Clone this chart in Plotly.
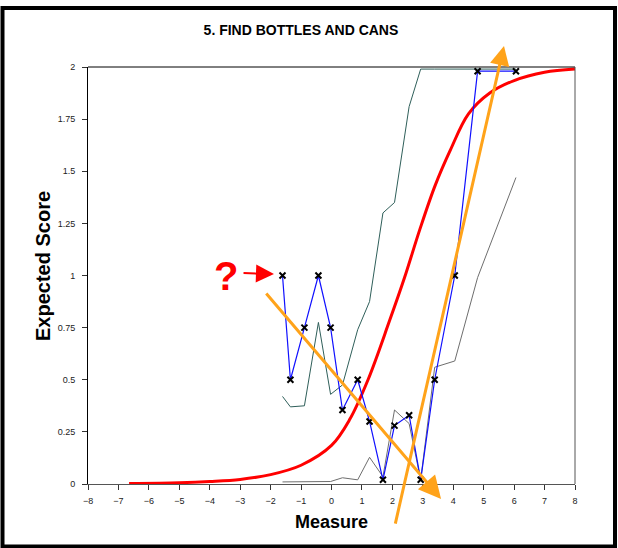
import plotly.graph_objects as go

# Observed item scores by measure
measure = [-1.61, -1.35, -0.89, -0.43, -0.03, 0.36, 0.86, 1.25, 1.69, 2.07, 2.55, 2.93, 3.39, 4.05, 4.80, 6.06]
observed = [1.0, 0.5, 0.75, 1.0, 0.75, 0.355, 0.5, 0.3, 0.02, 0.28, 0.33, 0.02, 0.5, 1.0, 1.98, 1.98]

# Upper and lower confidence bands
upper = [0.42, 0.37, 0.375, 0.775, 0.43, 0.475, 0.74, 0.875, 1.30, 1.35, 1.81, 1.99, 1.99, 1.99, 1.99, 1.99]
lower = [0.01, 0.01, 0.01, 0.01, 0.012, 0.03, 0.02, 0.128, 0.035, 0.355, 0.29, 0.02, 0.56, 0.59, 0.99, 1.47]

# Model expected-score curve
model_x = [-6.65, -5.0, -4.0, -3.0, -2.0, -1.0, 0.0, 0.6, 1.2, 1.9, 2.4, 2.9, 3.4, 3.9, 4.5, 5.2, 6.0, 7.0, 8.0]
model_y = [0.002, 0.006, 0.012, 0.022, 0.045, 0.09, 0.185, 0.31, 0.5, 0.78, 0.99, 1.22, 1.43, 1.6, 1.775, 1.875, 1.935, 1.975, 1.99]

x_ticks = list(range(-8, 9))
y_ticks = [0, 0.25, 0.5, 0.75, 1, 1.25, 1.5, 1.75, 2]
y_tick_text = ["0", "0.25", "0.5", "0.75", "1", "1.25", "1.5", "1.75", "2"]
X_RANGE = [-8, 8]
Y_RANGE = [0, 2]

FONT = "Arial, Liberation Sans, sans-serif"
W, H = 618, 548
L, R, T, B = 88, 43, 67, 64

fig = go.Figure()

fig.add_trace(go.Scatter(x=measure, y=lower, mode="lines",
                         line=dict(color="#6e6e6e", width=1), hoverinfo="skip"))
fig.add_trace(go.Scatter(x=measure, y=upper, mode="lines",
                         line=dict(color="#2f5f5a", width=1), hoverinfo="skip"))
fig.add_trace(go.Scatter(x=model_x, y=model_y, mode="lines",
                         line=dict(color="#ff0000", width=3, shape="spline", smoothing=1.0)))
fig.add_trace(go.Scatter(x=measure, y=observed, mode="lines+markers",
                         line=dict(color="#1010ff", width=1.2),
                         marker=dict(symbol="x-thin", size=6, color="black",
                                     line=dict(width=2, color="black"))))


def px_to_paper(px, py):
    """Convert window pixel position to paper coordinates."""
    pw, ph = W - L - R, H - T - B
    return (px - L) / pw, (H - B - py) / ph


def ydom(v):
    """Data value on the y axis expressed as a fraction of the y domain."""
    return (v - Y_RANGE[0]) / (Y_RANGE[1] - Y_RANGE[0])


def arrow(x, y, ax, ay, color, width, size):
    return dict(x=x, y=ydom(y), ax=ax, ay=ydom(ay), xref="x", yref="y domain",
                axref="x", ayref="y domain", text="", showarrow=True,
                arrowhead=2, arrowsize=size, arrowwidth=width, arrowcolor=color)


ylab_x, ylab_y = px_to_paper(43, 266)
annotations = [
    # question mark with red pointer
    dict(x=-3.45, y=1.0, xref="x", yref="y", text="<b>?</b>", showarrow=False,
         font=dict(family=FONT, size=40, color="#ff0000")),
    arrow(-1.89, 1.007, -2.94, 1.012, "#ff0000", 2, 1.8),
    # orange trend arrows
    arrow(3.6, -0.072, -2.185, 0.921, "#ffa31a", 3, 1.5),
    arrow(5.667, 2.101, 2.086, -0.197, "#ffa31a", 3, 1.3),
    # y axis title
    dict(x=ylab_x, y=ylab_y, xref="paper", yref="paper", text="<b>Expected Score</b>",
         showarrow=False, textangle=-90, xanchor="center", yanchor="middle",
         font=dict(family=FONT, size=20, color="black")),
]

x0, y0 = px_to_paper(2.5, 546.5)
x1, y1 = px_to_paper(615, 8)
shapes = [
    # outer frame
    dict(type="rect", xref="paper", yref="paper", x0=x0, y0=y0, x1=x1, y1=y1,
         line=dict(color="black", width=4), layer="above"),
    # top and right edges of the plot box
    dict(type="line", xref="x domain", yref="y domain", x0=0, x1=1, y0=1, y1=1,
         line=dict(color="black", width=1)),
    dict(type="line", xref="x domain", yref="y domain", x0=1, x1=1, y0=0, y1=1,
         line=dict(color="#555555", width=1)),
]

fig.update_layout(
    width=W, height=H,
    margin=dict(l=L, r=R, t=T, b=B),
    paper_bgcolor="white", plot_bgcolor="white",
    showlegend=False,
    title=dict(text="<b>5. FIND BOTTLES AND CANS</b>", x=0.487, xref="container",
               y=1 - 30 / H, yref="container", xanchor="center", yanchor="middle",
               font=dict(family=FONT, size=14, color="black")),
    annotations=annotations,
    shapes=shapes,
    xaxis=dict(range=X_RANGE, tickvals=x_ticks, ticks="outside", ticklen=5,
               tickcolor="#333", showgrid=False, zeroline=False,
               showline=True, linecolor="#555555", linewidth=1,
               ticklabelstandoff=3,
               tickfont=dict(family=FONT, size=9, color="#222"),
               title=dict(text="<b>Measure</b>", standoff=10,
                          font=dict(family=FONT, size=18, color="black"))),
    yaxis=dict(range=Y_RANGE, tickvals=y_ticks, ticktext=y_tick_text, ticks="outside",
               ticklen=5, tickcolor="#333", showgrid=False, zeroline=False,
               showline=True, linecolor="black", linewidth=1,
               ticklabelstandoff=5,
               tickfont=dict(family=FONT, size=9, color="#222")),
)

fig.write_html("out.html")
